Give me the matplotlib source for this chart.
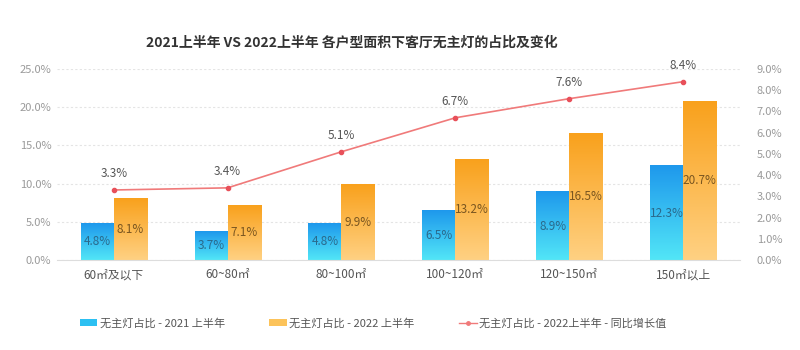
import numpy as np
import matplotlib
matplotlib.use('Agg')
import matplotlib.pyplot as plt
from matplotlib.colors import LinearSegmentedColormap
from matplotlib.patches import Patch
from matplotlib.lines import Line2D

plt.rcParams['font.family'] = ['Noto Sans CJK SC', 'DejaVu Sans']

# data
categories = ['60㎡及以下', '60~80㎡', '80~100㎡', '100~120㎡', '120~150㎡', '150㎡以上']
share_2021 = [4.8, 3.7, 4.8, 6.5, 8.9, 12.3]
share_2022 = [8.1, 7.1, 9.9, 13.2, 16.5, 20.7]
growth = [3.3, 3.4, 5.1, 6.7, 7.6, 8.4]
legend_labels = ['无主灯占比 - 2021 上半年', '无主灯占比 - 2022 上半年',
                 '无主灯占比 - 2022上半年 - 同比增长值']
title = '2021上半年 VS 2022上半年 各户型面积下客厅无主灯的占比及变化'

blue_cmap = LinearSegmentedColormap.from_list('b', ['#52e6f7', '#1e98ec'])
orange_cmap = LinearSegmentedColormap.from_list('o', ['#ffd183', '#f9a11c'])

fig = plt.figure(figsize=(8, 3.5), dpi=100)
ax = fig.add_axes([0.071, 0.257, 0.854, 0.546])
ax2 = ax.twinx()

x = np.arange(len(categories))
w = 0.29
grad = np.linspace(0, 1, 256).reshape(-1, 1)


# draw one bar with a vertical gradient
def grad_bar(xc, h, cmap):
    x0, x1 = xc - w / 2, xc + w / 2
    ax.imshow(grad, extent=[x0, x1, 0, h], origin='lower', aspect='auto',
              cmap=cmap, zorder=2)


for i in range(len(categories)):
    grad_bar(x[i] - w / 2, share_2021[i], blue_cmap)
    grad_bar(x[i] + w / 2, share_2022[i], orange_cmap)
    ax.text(x[i] - w / 2, share_2021[i] / 2, f'{share_2021[i]}%', ha='center', va='center',
            fontsize=8.5, color='#2a6a8c', zorder=3)
    ax.text(x[i] + w / 2, share_2022[i] / 2, f'{share_2022[i]}%', ha='center', va='center',
            fontsize=8.5, color='#7a5620', zorder=3)

ax.set_xlim(-0.5, len(categories) - 0.5)
ax.set_ylim(0, 25)
ax.set_yticks(np.arange(0, 26, 5))
ax.set_yticklabels([f'{v:.1f}%' for v in np.arange(0, 26, 5)])
ax.set_xticks(x)
ax.set_xticklabels(categories)
ax.grid(axis='y', color='#e4e4e4', linestyle=(0, (2, 2)), linewidth=0.8, zorder=0)
ax.set_axisbelow(True)

ax2.plot(x, growth, color='#f07a7a', linewidth=1.2, marker='o', markersize=3,
         markerfacecolor='#e8505a', markeredgecolor='#e8505a', zorder=4)
for i, g in enumerate(growth):
    ax2.text(x[i], g + 0.45, f'{g}%', ha='center', va='bottom', fontsize=8.5, color='#555555')
ax2.set_ylim(0, 9)
ax2.set_yticks(np.arange(0, 10, 1))
ax2.set_yticklabels([f'{v:.1f}%' for v in np.arange(0, 10, 1)])

for a in (ax, ax2):
    for s in a.spines.values():
        s.set_visible(False)
    a.tick_params(length=0, labelsize=8, labelcolor='#9a9a9a')
ax.spines['bottom'].set_visible(True)
ax.spines['bottom'].set_color('#dddddd')
ax.tick_params(axis='x', labelsize=8.5, labelcolor='#555555', pad=6)
ax.tick_params(axis='y', pad=4)
ax2.tick_params(axis='y', pad=12)

fig.text(0.44, 0.88, title, ha='center', va='center', fontsize=10, fontweight='bold',
         color='#333333')

handles = [Patch(facecolor='#2cc0f2'), Patch(facecolor='#fcc35a'),
           Line2D([], [], color='#f07a7a', marker='o', markersize=2.5, linewidth=1)]
fig.legend(handles, legend_labels, loc='center', bbox_to_anchor=(0.466, 0.077), ncol=3,
           frameon=False, fontsize=8, handlelength=1.6, handleheight=0.5, handletextpad=0.2,
           columnspacing=4.0, labelcolor='#555555')

fig.savefig('out.png', dpi=100, facecolor='white')
